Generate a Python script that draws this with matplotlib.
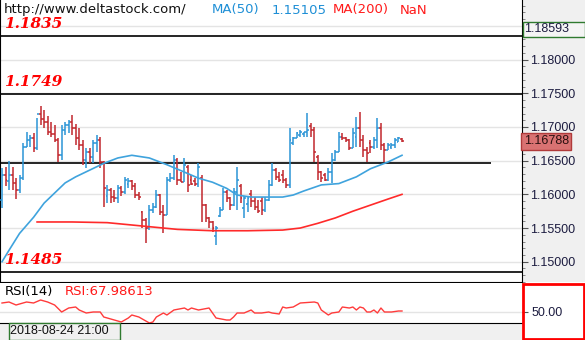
import numpy as np
import matplotlib
matplotlib.use("Agg")
import matplotlib.pyplot as plt
from matplotlib.patches import Rectangle
from matplotlib.transforms import blended_transform_factory

# OHLC бари (EURUSD)
opens = [1.1592, 1.1629, 1.1620, 1.1628, 1.1617, 1.1606, 1.1624, 1.1670, 1.1681, 1.1684,
         1.1669, 1.1720, 1.1712, 1.1708, 1.1693, 1.1690, 1.1680, 1.1658, 1.1696, 1.1703,
         1.1707, 1.1698, 1.1684, 1.1673, 1.1651, 1.1663, 1.1655, 1.1676, 1.1681, 1.1648,
         1.1598, 1.1606, 1.1596, 1.1594, 1.1609, 1.1603, 1.1616, 1.1620, 1.1612, 1.1599,
         1.1574, 1.1562, 1.1550, 1.1577, 1.1581, 1.1599, 1.1574, 1.1569, 1.1621, 1.1624,
         1.1651, 1.1621, 1.1619, 1.1640, 1.1622, 1.1620, 1.1615, 1.1625, 1.1584, 1.1565,
         1.1559, 1.1538, 1.1568, 1.1577, 1.1603, 1.1594, 1.1584, 1.1603, 1.1612, 1.1580,
         1.1585, 1.1600, 1.1590, 1.1581, 1.1590, 1.1577, 1.1592, 1.1614, 1.1636, 1.1626,
         1.1628, 1.1621, 1.1614, 1.1676, 1.1684, 1.1688, 1.1690, 1.1692, 1.1702, 1.1695,
         1.1655, 1.1633, 1.1628, 1.1622, 1.1633, 1.1651, 1.1663, 1.1685, 1.1683, 1.1681,
         1.1669, 1.1685, 1.1699, 1.1681, 1.1666, 1.1676, 1.1670, 1.1681, 1.1699, 1.1673,
         1.1666, 1.1670, 1.1674, 1.1678, 1.1682]
highs = [1.1639, 1.1640, 1.1650, 1.1641, 1.1624, 1.1628, 1.1676, 1.1693, 1.1688, 1.1691,
         1.1713, 1.1731, 1.1725, 1.1716, 1.1707, 1.1703, 1.1683, 1.1703, 1.1707, 1.1710,
         1.1718, 1.1704, 1.1698, 1.1681, 1.1669, 1.1669, 1.1681, 1.1688, 1.1685, 1.1650,
         1.1614, 1.1609, 1.1606, 1.1614, 1.1612, 1.1626, 1.1624, 1.1622, 1.1617, 1.1604,
         1.1576, 1.1565, 1.1584, 1.1587, 1.1606, 1.1600, 1.1584, 1.1626, 1.1632, 1.1658,
         1.1654, 1.1633, 1.1654, 1.1643, 1.1629, 1.1624, 1.1647, 1.1628, 1.1585, 1.1566,
         1.1560, 1.1553, 1.1581, 1.1609, 1.1606, 1.1596, 1.1609, 1.1641, 1.1615, 1.1597,
         1.1596, 1.1606, 1.1596, 1.1592, 1.1596, 1.1596, 1.1621, 1.1647, 1.1639, 1.1633,
         1.1636, 1.1624, 1.1699, 1.1685, 1.1693, 1.1696, 1.1693, 1.1721, 1.1706, 1.1700,
         1.1658, 1.1634, 1.1631, 1.1639, 1.1661, 1.1666, 1.1693, 1.1691, 1.1685, 1.1682,
         1.1699, 1.1715, 1.1722, 1.1688, 1.1670, 1.1681, 1.1685, 1.1713, 1.1706, 1.1676,
         1.1676, 1.1676, 1.1684, 1.1685, 1.1684]
lows = [1.1580, 1.1612, 1.1606, 1.1606, 1.1593, 1.1602, 1.1621, 1.1670, 1.1670, 1.1663,
        1.1666, 1.1703, 1.1698, 1.1688, 1.1685, 1.1677, 1.1648, 1.1651, 1.1688, 1.1691,
        1.1688, 1.1673, 1.1666, 1.1644, 1.1639, 1.1647, 1.1647, 1.1663, 1.1639, 1.1581,
        1.1587, 1.1587, 1.1589, 1.1587, 1.1597, 1.1601, 1.1610, 1.1606, 1.1594, 1.1592,
        1.1550, 1.1528, 1.1547, 1.1572, 1.1580, 1.1569, 1.1543, 1.1569, 1.1618, 1.1621,
        1.1614, 1.1618, 1.1618, 1.1603, 1.1614, 1.1612, 1.1611, 1.1559, 1.1559, 1.1550,
        1.1544, 1.1525, 1.1566, 1.1577, 1.1589, 1.1577, 1.1582, 1.1577, 1.1587, 1.1565,
        1.1574, 1.1581, 1.1577, 1.1572, 1.1569, 1.1574, 1.1590, 1.1612, 1.1621, 1.1618,
        1.1617, 1.1609, 1.1609, 1.1673, 1.1683, 1.1685, 1.1685, 1.1685, 1.1685, 1.1648,
        1.1621, 1.1618, 1.1620, 1.1620, 1.1617, 1.1649, 1.1663, 1.1681, 1.1677, 1.1666,
        1.1669, 1.1670, 1.1670, 1.1655, 1.1648, 1.1661, 1.1668, 1.1669, 1.1666, 1.1648,
        1.1666, 1.1668, 1.1669, 1.1677, 1.1677]
closes = [1.1629, 1.1622, 1.1628, 1.1617, 1.1606, 1.1624, 1.1670, 1.1681, 1.1684, 1.1669,
          1.1720, 1.1712, 1.1708, 1.1693, 1.1690, 1.1681, 1.1658, 1.1696, 1.1703, 1.1707,
          1.1698, 1.1684, 1.1673, 1.1651, 1.1663, 1.1655, 1.1676, 1.1681, 1.1648, 1.1609,
          1.1606, 1.1596, 1.1594, 1.1609, 1.1603, 1.1621, 1.1620, 1.1612, 1.1599, 1.1596,
          1.1562, 1.1550, 1.1577, 1.1581, 1.1599, 1.1574, 1.1569, 1.1621, 1.1624, 1.1651,
          1.1621, 1.1619, 1.1644, 1.1614, 1.1616, 1.1615, 1.1641, 1.1584, 1.1565, 1.1559,
          1.1550, 1.1550, 1.1577, 1.1603, 1.1594, 1.1584, 1.1603, 1.1621, 1.1594, 1.1594,
          1.1594, 1.1590, 1.1581, 1.1576, 1.1577, 1.1592, 1.1614, 1.1636, 1.1626, 1.1621,
          1.1621, 1.1614, 1.1681, 1.1684, 1.1691, 1.1693, 1.1692, 1.1696, 1.1695, 1.1663,
          1.1633, 1.1624, 1.1622, 1.1633, 1.1651, 1.1663, 1.1685, 1.1683, 1.1681, 1.1669,
          1.1691, 1.1699, 1.1681, 1.1666, 1.1661, 1.1670, 1.1681, 1.1699, 1.1673, 1.1666,
          1.1673, 1.1674, 1.1681, 1.1683, 1.16788]

# ковзні середні (індекс бару -> значення)
ma50_idx = [0, 2, 5, 9, 12, 15, 18, 21, 25, 29, 33, 37, 42, 47, 52, 56, 60, 64, 67, 71,
            76, 80, 83, 86, 91, 96, 101, 105, 110, 114]
ma50 = [1.1500, 1.1517, 1.1542, 1.1566, 1.1587, 1.1602, 1.1617, 1.1626, 1.1636, 1.1646,
        1.1654, 1.1658, 1.1654, 1.1644, 1.1633, 1.1624, 1.1618, 1.1609, 1.1599, 1.1596,
        1.1596, 1.1596, 1.1599, 1.1605, 1.1614, 1.1616, 1.1626, 1.1638, 1.1648, 1.1658]
ma200_idx = [10, 20, 30, 40, 50, 60, 70, 80, 85, 90, 95, 100, 105, 110, 114]
ma200 = [1.1559, 1.1559, 1.1558, 1.1553, 1.1548, 1.1546, 1.1546, 1.1547, 1.1550, 1.1557,
         1.1565, 1.1575, 1.1584, 1.1593, 1.1600]

# RSI(14)
rsi_idx = [0, 2, 4, 7, 9, 11, 13, 15, 17, 19, 21, 22, 24, 26, 28, 29, 32, 34, 36, 37,
           39, 42, 43, 44, 46, 47, 49, 52, 53, 54, 56, 59, 60, 61, 64, 65, 66, 67, 69, 71,
           72, 74, 76, 77, 79, 80, 81, 83, 85, 89, 90, 91, 93, 94, 96, 97, 99, 100, 101, 102,
           103, 104, 105, 106, 107, 108, 109, 111, 113, 114]
rsi = [68, 70, 64, 70, 68, 74, 70, 64, 50, 58, 60, 54, 48, 50, 50, 40, 34, 30, 38, 44,
       40, 28, 30, 40, 48, 44, 54, 58, 54, 58, 54, 58, 48, 38, 34, 34, 40, 48, 48, 54,
       48, 48, 50, 48, 46, 60, 58, 60, 68, 70, 68, 54, 44, 48, 50, 60, 58, 60, 54, 60,
       58, 50, 50, 54, 48, 58, 50, 50, 52, 52]

# рівні
levels = [1.1835, 1.1749, 1.1485]
level_labels = ["1.1835", "1.1749", "1.1485"]
support = 1.1647
support_end = 139.5

W, H = 585, 340
BG = "#f0f0f0"
BLUE = "#2b95d6"
RED = "#c1272d"


def box(x0, y0, x1, y1):
    return [x0 / W, 1 - y1 / H, (x1 - x0) / W, (y1 - y0) / H]


fig = plt.figure(figsize=(5.85, 3.4), dpi=100)
fig.add_artist(Rectangle((522 / W, 58 / H), 63 / W, 282 / H, transform=fig.transFigure,
                         facecolor=BG, edgecolor="none", zorder=-5))
fig.add_artist(Rectangle((0, 0), 522 / W, 17 / H, transform=fig.transFigure,
                         facecolor=BG, edgecolor="none", zorder=-5))

ax = fig.add_axes(box(0, 0, 522, 282))
rax = fig.add_axes(box(0, 283, 522, 323))

x = np.arange(len(closes))
o = np.array(opens)
c = np.array(closes)
colors = np.where(c >= o, BLUE, RED)

ax.vlines(x, lows, highs, colors=colors, lw=1.1, zorder=3)
ax.hlines(o, x - 0.5, x, colors=colors, lw=1.1, zorder=3)
ax.hlines(c, x, x + 0.5, colors=colors, lw=1.1, zorder=3)

ax.plot(ma50_idx, ma50, color="#3fa3dd", lw=1.2, zorder=4)
ax.plot(ma200_idx, ma200, color="#ff2a2a", lw=1.2, zorder=4)

for lv, lab in zip(levels, level_labels):
    ax.axhline(lv, color="black", lw=1.2, zorder=2)
    ax.text(0.6, lv + 0.0007, lab, color="#ff0000", fontsize=11, fontweight="bold",
            fontstyle="italic", family="DejaVu Serif", va="bottom", ha="left", zorder=6)
ax.hlines(support, -1, support_end, color="black", lw=1.2, zorder=2)

ax.set_xlim(-0.57, 148.2)
ax.set_ylim(1.14699, 1.18885)
major = np.arange(1.150, 1.1851, 0.005)
ax.set_yticks(major)
ax.set_yticklabels(["%.5f" % v if v < 1.1825 else "" for v in major])
ax.set_yticks(np.arange(1.147, 1.1885, 0.001), minor=True)
ax.yaxis.tick_right()
ax.tick_params(axis="y", which="major", length=4, color="#555555", labelsize=9,
               labelcolor="#1c1c40", pad=2)
ax.tick_params(axis="y", which="minor", length=2, color="#777777")
for lab in ax.get_yticklabels():
    lab.set_family("Liberation Sans")
ax.set_xticks([])
ax.grid(axis="y", color="#e4e4e4", lw=1, zorder=0)
for s in ["top"]:
    ax.spines[s].set_visible(False)
ax.spines["left"].set_color("black")
ax.spines["right"].set_color("black")
ax.spines["bottom"].set_color("black")

tr = blended_transform_factory(ax.transAxes, ax.transData)
ax.text(1.003, closes[-1], "%.5f" % closes[-1], transform=tr, fontsize=9,
        family="Liberation Sans", color="#2a1010", va="center", ha="left", clip_on=False,
        bbox=dict(boxstyle="square,pad=0.2", fc="#d97272", ec="#b03a3a", lw=1), zorder=10)

# RSI панель
rax.plot(rsi_idx, rsi, color="#ff3b3b", lw=1)
rax.axhline(50, color="#e4e4e4", lw=1, zorder=0)
rax.set_xlim(-0.57, 148.2)
rax.set_ylim(28, 108)
rax.set_xticks([])
rax.set_yticks([50])
rax.set_yticklabels(["50.00"])
rax.yaxis.tick_right()
rax.tick_params(axis="y", length=4, color="#555555", labelsize=9, labelcolor="#1c1c40", pad=3)
for lab in rax.get_yticklabels():
    lab.set_family("Liberation Sans")
rax.spines["top"].set_visible(False)
rax.spines["left"].set_visible(False)
rax.spines["right"].set_visible(False)
rax.spines["bottom"].set_color("black")
rax.text(0.01, 0.78, "RSI(14)", transform=rax.transAxes, fontsize=9.5, color="black",
         va="center", ha="left")
rax.text(0.125, 0.78, "RSI:67.98613", transform=rax.transAxes, fontsize=9.5, color="#ff1a1a",
         va="center", ha="left")

# рамки справа
fig.add_artist(Rectangle((523 / W, 1 / H), 61 / W, 55 / H, transform=fig.transFigure,
                         facecolor="none", edgecolor="#ff0000", lw=2, zorder=8))
fig.add_artist(Rectangle((522.5 / W, 1 - 37 / H), 62 / W, 15 / H, transform=fig.transFigure,
                         facecolor="#f4f4f4", edgecolor="#2f7a2f", lw=1, zorder=8))
fig.text(524 / W, 1 - 29.5 / H, "1.18593", fontsize=9, family="Liberation Sans",
         color="#1c1c40", va="center", ha="left", zorder=9)

# дата
fig.add_artist(Rectangle((8.5 / W, 0.5 / H), 111 / W, 16.5 / H, transform=fig.transFigure,
                         facecolor=BG, edgecolor="#2f7a2f", lw=1, zorder=8))
fig.text(10 / W, 8.5 / H, "2018-08-24 21:00", fontsize=9, family="Liberation Sans",
         color="#101010", va="center", ha="left", zorder=9)

# заголовок
fig.text(4 / W, 1 - 10 / H, "http://www.deltastock.com/", fontsize=9.5, color="#111111",
         va="center", ha="left", zorder=9)
fig.text(212 / W, 1 - 10 / H, "MA(50)", fontsize=9.5, color="#1e8fd6", va="center", ha="left")
fig.text(272 / W, 1 - 10 / H, "1.15105", fontsize=9.5, color="#1e8fd6", va="center", ha="left")
fig.text(333 / W, 1 - 10 / H, "MA(200)", fontsize=9.5, color="#ff1a1a", va="center", ha="left")
fig.text(400 / W, 1 - 10 / H, "NaN", fontsize=9.5, color="#ff1a1a", va="center", ha="left")

fig.savefig("out.png", dpi=100)
